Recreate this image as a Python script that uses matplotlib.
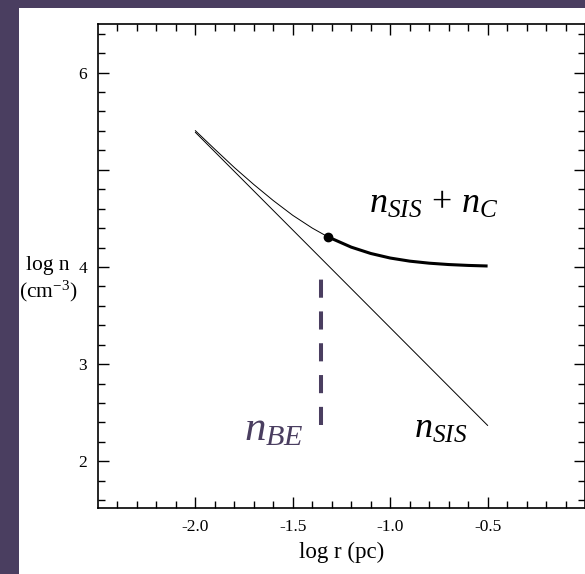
import numpy as np
import matplotlib
matplotlib.use("Agg")
import matplotlib.pyplot as plt
from matplotlib.patches import Rectangle

plt.rcParams["font.family"] = "Liberation Serif"
plt.rcParams["mathtext.fontset"] = "custom"
plt.rcParams["mathtext.rm"] = "Liberation Serif"
plt.rcParams["mathtext.it"] = "Liberation Serif:italic"

# log r (pc) and log n (cm^-3)
sis_x = [-2.0, -0.5]
sis_y = [5.385, 2.37]

sum_x = [-2.0, -1.9, -1.8, -1.7, -1.6, -1.5, -1.4, -1.32]
sum_y = [5.402, 5.211, 5.023, 4.848, 4.683, 4.531, 4.400, 4.31]

core_x = [-1.32, -1.2, -1.1, -1.0, -0.9, -0.8, -0.7, -0.6, -0.5]
core_y = [4.31, 4.204, 4.139, 4.092, 4.060, 4.039, 4.025, 4.016, 4.010]

be_x = -1.355
be_y = [2.37, 3.90]

purple = "#4a3e60"

fig = plt.figure(figsize=(5.85, 5.74), dpi=100)
fig.patch.set_facecolor(purple)
fig.patches.append(Rectangle((19 / 585, 0), 1, 566 / 574, transform=fig.transFigure,
                             facecolor="white", edgecolor="none", zorder=-1))

ax = fig.add_axes([98 / 585, 66 / 574, 487 / 585, 484 / 574])
ax.set_facecolor("white")

ax.plot(sis_x, sis_y, color="black", lw=0.7)
ax.plot(sum_x, sum_y, color="black", lw=0.7)
ax.plot(core_x, core_y, color="black", lw=2.2, solid_capstyle="butt",
        solid_joinstyle="round")
ax.plot([core_x[0]], [core_y[0]], "o", color="black", ms=6)
ax.plot([be_x, be_x], be_y, color=purple, lw=2.9, dashes=(4.5, 3.4))

ax.text(-1.108, 4.56, r"$n_{SIS}\,+\,n_C$", fontsize=26, color="black")
ax.text(-1.753, 2.215, r"$n_{BE}$", fontsize=31, color=purple)
ax.text(-0.876, 2.245, r"$n_{SIS}$", fontsize=26, color="black")

ax.set_xlim(-2.5, 0.0)
ax.set_ylim(1.52, 6.5)
ax.set_xticks([-2.0, -1.5, -1.0, -0.5])
ax.set_xticklabels(["-2.0", "-1.5", "-1.0", "-0.5"])
ax.set_xticks(np.arange(-2.4, 0.0, 0.1), minor=True)
ax.set_yticks([2, 3, 4, 5, 6])
ax.set_yticklabels(["2", "3", "4", "", "6"])
ax.set_yticks(np.arange(1.6, 6.5, 0.2), minor=True)
ax.tick_params(which="both", direction="in", top=True, right=True, labelsize=12.5, pad=8)
ax.tick_params(which="major", length=8, width=1)
ax.tick_params(which="minor", length=5, width=1)
for s in ax.spines.values():
    s.set_linewidth(1.2)

ax.set_xlabel("log r (pc)", fontsize=16.5, labelpad=5)
fig.text(48 / 585, 1 - 280 / 574, "log n\n(cm$^{-3}$)", fontsize=15.5,
         ha="center", va="center", linespacing=1.25)

fig.savefig("out.png", dpi=100, facecolor=fig.get_facecolor())
